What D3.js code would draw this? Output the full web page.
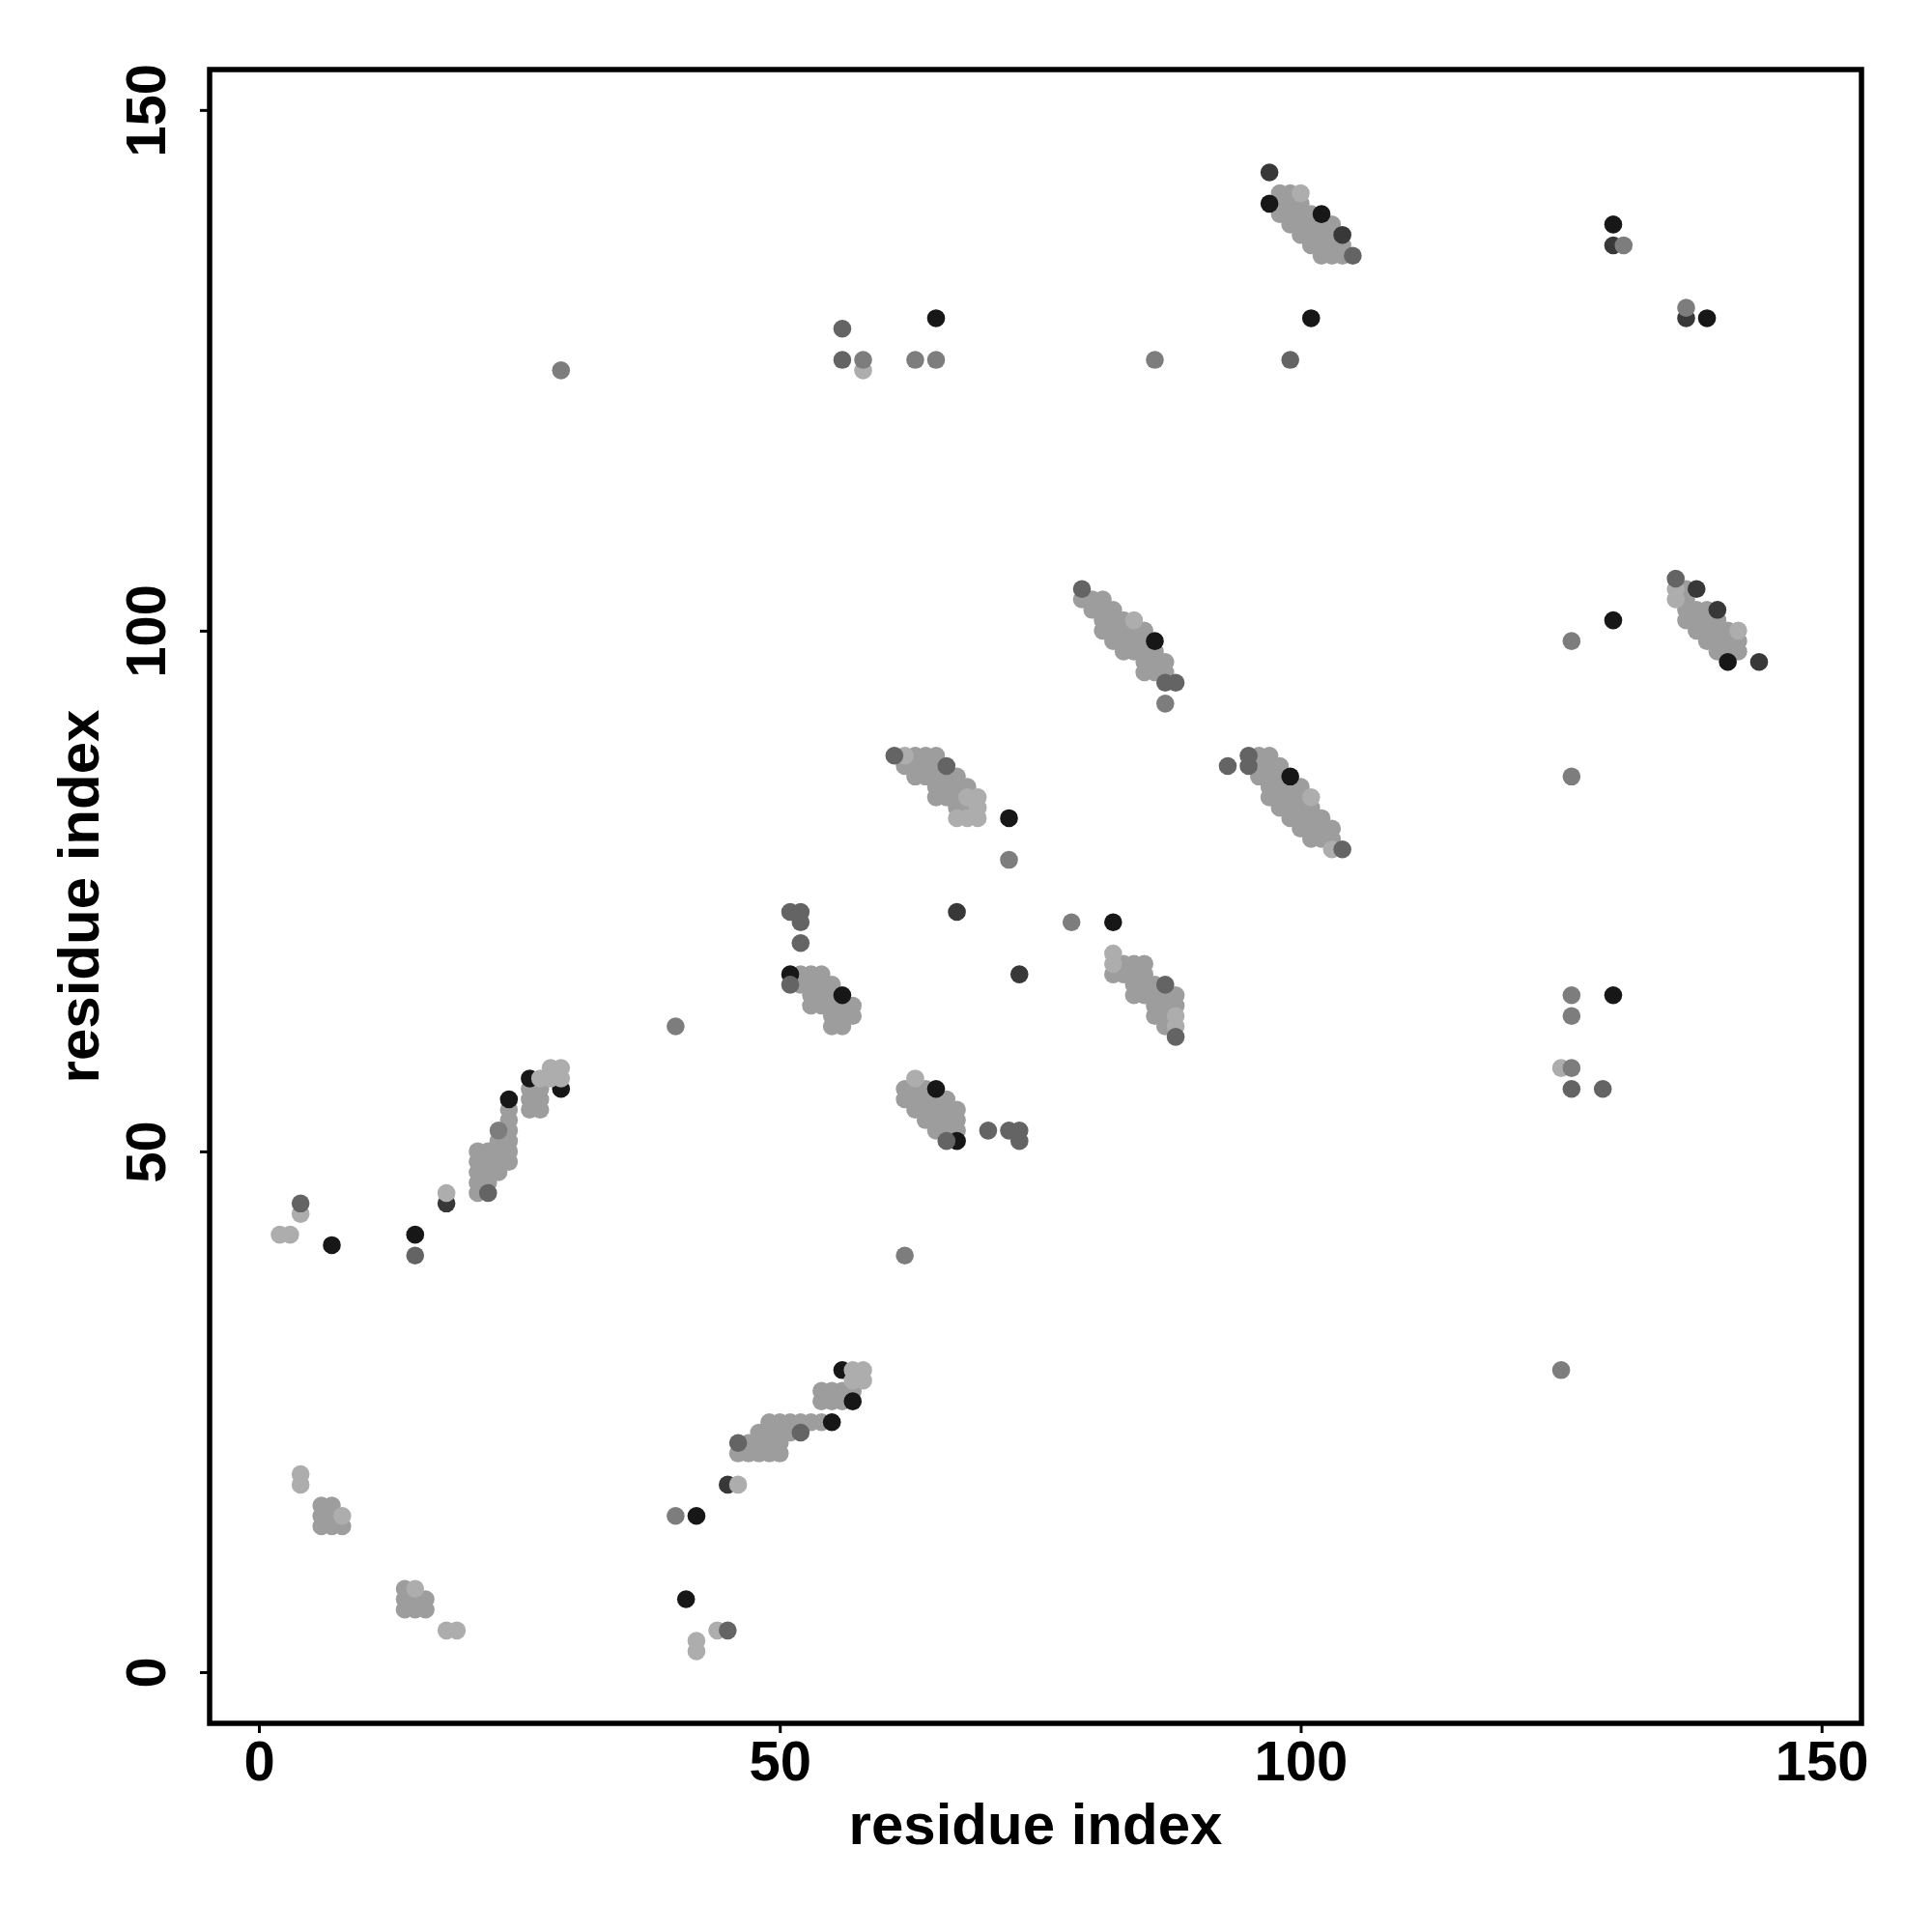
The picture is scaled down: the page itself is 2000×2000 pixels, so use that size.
<!DOCTYPE html>
<html><head><meta charset="utf-8">
<script src="https://cdn.jsdelivr.net/npm/d3@7"></script>
<style>body{margin:0;background:#fff;} text{font-family:"Liberation Sans",Arial,Helvetica,sans-serif;font-weight:bold;}</style>
</head><body>
<svg id="chart" width="2000" height="2000"></svg>
<script>
// ---- data ----
const xTicks = [0, 50, 100, 150];
const yTicks = [0, 50, 100, 150];
const xTitle = "residue index";
const yTitle = "residue index";

// contacts grouped by shade level (0 = darkest ... 5 = lightest)
const blackContacts = [[7,41],[15,42],[24,55],[26,57],[29,56],[41,7],[42,15],[55,24],[57,26],[56,29],
  [51,67],[56,65],[65,56],[67,51],[72,82],[86,99],[82,72],[99,86],[102,140],[97,141],[101,130],
  [65,130],[130,101],[130,65],[130,139],[139,130],[141,97]];
const veryDarkContacts = [[18,45],[45,18],[67,73],[73,67],[97,144],[104,138],[130,137],[137,130],[138,104],[140,102],[144,97]];
const darkContacts = [[4,45],[15,40],[22,46],[45,4],[46,22],[52,23],[51,73],[52,73],[52,72],[52,70],[51,66],[66,51],
  [70,52],[72,52],[73,52],[73,51],[61,88],[66,87],[79,104],[87,95],[88,95],[87,66],[88,61],[93,87],[95,88],[95,87],
  [104,79],[105,136],[99,126],[56,129],[56,126],[126,56],[129,56],[136,105]];
const midContacts = [[23,52],[40,15],[40,62],[62,40],[72,78],[87,93],[78,72],[86,126],[29,125],[58,126],[63,126],[65,126],
  [126,99],[126,86],[126,65],[126,63],[126,58],[125,29],[131,137],[137,131]];
const bandContacts = [
  [21,46],[21,47],[21,48],[21,49],[21,50],[22,47],[22,48],[22,49],[22,50],[23,48],[23,49],[23,50],[23,51],
  [24,49],[24,50],[24,51],[24,52],[24,53],[24,54],[26,54],[26,55],[26,56],[27,54],[27,55],[27,56],
  [6,14],[6,15],[6,16],[7,14],[7,15],[7,16],[8,14],[14,6],[14,7],[14,8],[15,6],[15,7],[16,6],[16,7],
  [46,21],[47,21],[48,21],[49,21],[50,21],[47,22],[48,22],[49,22],[50,22],[48,23],[49,23],[50,23],[51,23],
  [49,24],[50,24],[51,24],[52,24],[53,24],[54,24],[54,26],[55,26],[56,26],[54,27],[55,27],[56,27],[57,27],
  [52,67],[53,67],[54,67],[52,66],[53,66],[54,66],[55,66],[53,65],[54,65],[55,65],
  [53,64],[54,64],[55,64],[56,64],[57,64],[55,63],[56,63],[57,63],[55,62],[56,62],
  [62,56],[63,56],[64,56],[62,55],[63,55],[64,55],[65,55],[66,55],[63,54],[64,54],[65,54],[66,54],[67,54],
  [64,53],[65,53],[66,53],[67,53],[65,52],[66,52],[67,52],
  [63,88],[64,88],[65,88],[62,87],[63,87],[64,87],[65,87],[63,86],[64,86],[65,86],[66,86],[67,86],
  [65,85],[66,85],[67,85],[68,85],[65,84],[66,84],[67,84],[67,83],[68,83],
  [79,103],[80,103],[81,103],[80,102],[81,102],[82,102],[81,101],[82,101],[83,101],
  [81,100],[82,100],[83,100],[84,100],[85,100],[82,99],[83,99],[84,99],[85,99],
  [83,98],[84,98],[85,98],[86,98],[85,97],[86,97],[87,97],[85,96],[86,96],[87,96],
  [83,68],[84,68],[85,68],[82,67],[83,67],[84,67],[85,67],[84,66],[85,66],[86,66],
  [84,65],[85,65],[86,65],[87,65],[88,65],[86,64],[87,64],[88,64],[86,63],[87,63],[87,62],
  [96,88],[97,88],[96,87],[97,87],[98,87],[96,86],[97,86],[98,86],[97,85],[98,85],[99,85],[100,85],
  [97,84],[98,84],[99,84],[100,84],[98,83],[99,83],[100,83],[101,83],[99,82],[100,82],[101,82],[102,82],
  [100,81],[101,81],[102,81],[103,81],[101,80],[102,80],[103,80],
  [98,142],[99,142],[98,141],[99,141],[100,141],[98,140],[99,140],[100,140],[101,140],
  [99,139],[100,139],[101,139],[102,139],[103,139],[100,138],[101,138],[102,138],[103,138],
  [101,137],[102,137],[103,137],[104,137],[102,136],[103,136],[104,136],
  [137,104],[137,103],[137,102],[138,102],[139,102],[137,101],[138,101],[139,101],[140,101],
  [138,100],[139,100],[140,100],[141,100],[139,99],[140,99],[141,99],[142,99],[140,98],[141,98],[142,98]];
const lightContacts = [[2,42],[3,42],[4,44],[18,46],[27,57],[28,57],[28,58],[29,58],[29,57],
  [4,19],[4,18],[8,15],[15,8],[18,4],[19,4],[42,3],[42,2],[44,4],[46,18],[57,28],[58,28],[57,29],[58,29],
  [63,57],[62,88],[68,84],[69,84],[69,83],[67,82],[68,82],[69,82],[84,101],[82,69],[82,68],
  [88,63],[88,62],[101,84],[103,79],[100,142],[58,125],[125,58],[136,104],[136,103],[142,100]];

// ---- styles ----
const layers = [
  {pts: bandContacts, color: "#9d9d9d"},
  {pts: blackContacts, color: "#171717"},
  {pts: veryDarkContacts, color: "#383838"},
  {pts: lightContacts, color: "#adadad"},
  {pts: darkContacts, color: "#646464"},
  {pts: midContacts, color: "#7d7d7d"}
];

const svg = d3.select("#chart");
const mLeft = 217, mRight = 1927, mTop = 72, mBottom = 1784;
const x = d3.scaleLinear().domain([-4.73, 153.83]).range([mLeft, mRight]);
const y = d3.scaleLinear().domain([-4.92, 153.88]).range([mBottom, mTop]);

svg.append("rect").attr("width", 2000).attr("height", 2000).attr("fill", "#fff");

const g = svg.append("g");
layers.forEach(l => {
  g.selectAll(null).data(l.pts).enter().append("circle")
    .attr("cx", d => x(d[0])).attr("cy", d => y(d[1]))
    .attr("r", 9.3).attr("fill", l.color);
});

// box
svg.append("rect").attr("x", mLeft).attr("y", mTop).attr("width", mRight - mLeft).attr("height", mBottom - mTop)
  .attr("fill", "none").attr("stroke", "#000").attr("stroke-width", 5.5);

// axes
const xAxis = d3.axisBottom(x).tickValues(xTicks).tickSize(10).tickPadding(14).tickFormat(d3.format("d"));
const gx = svg.append("g").attr("transform", `translate(0,${mBottom})`).call(xAxis);
gx.select(".domain").remove();
gx.selectAll(".tick line").attr("stroke", "#000").attr("stroke-width", 3);
gx.selectAll(".tick text").attr("font-size", 58).attr("fill", "#000")
  .attr("font-family", '"Liberation Sans",Arial,sans-serif').attr("font-weight", "bold")
  .attr("dy", null).attr("y", 59);

const yAxis = d3.axisLeft(y).tickValues(yTicks).tickSize(10).tickFormat(d3.format("d"));
const gy = svg.append("g").attr("transform", `translate(${mLeft},0)`).call(yAxis);
gy.select(".domain").remove();
gy.selectAll(".tick line").attr("stroke", "#000").attr("stroke-width", 3);
gy.selectAll(".tick text").attr("font-size", 58).attr("fill", "#000")
  .attr("font-family", '"Liberation Sans",Arial,sans-serif').attr("font-weight", "bold")
  .attr("x", null).attr("dy", null).attr("text-anchor", "middle")
  .attr("transform", "translate(-46,0) rotate(-90)");

// titles
svg.append("text").attr("x", (mLeft + mRight) / 2).attr("y", 1909).attr("text-anchor", "middle")
  .attr("font-size", 60).text(xTitle);
svg.append("text").attr("transform", `translate(102,${(mTop + mBottom) / 2}) rotate(-90)`).attr("text-anchor", "middle")
  .attr("font-size", 60).text(yTitle);
</script>
</body></html>
